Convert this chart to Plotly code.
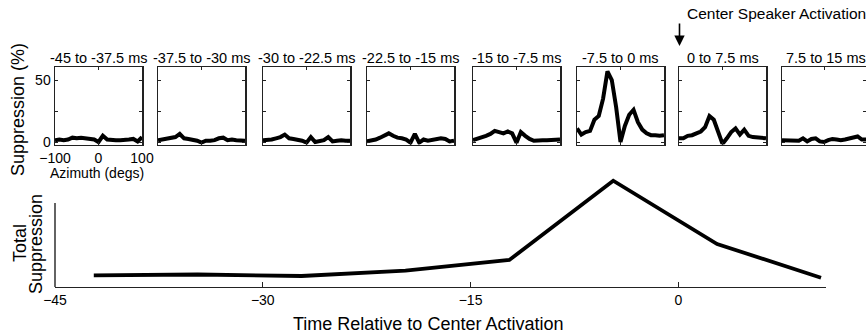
import plotly.graph_objects as go

W, H = 866, 335

# ---------------- data ----------------
azimuth = [-100, -90, -80, -70, -60, -50, -40, -30, -20, -10, 0,
           10, 20, 30, 40, 50, 60, 70, 80, 90, 100]

window_labels = ["-45 to -37.5 ms", "-37.5 to -30 ms", "-30 to -22.5 ms",
                 "-22.5 to -15 ms", "-15 to -7.5 ms", "-7.5 to 0 ms",
                 "0 to 7.5 ms", "7.5 to 15 ms"]

supp_w1 = [1.5, 2, 1.5, 2, 3.5, 3, 3.5, 3, 2, 2, 0, 5, 2, 1.5, 1.5, 1.5, 1.5, 2, 2.5, 0.5, 4]
supp_w2 = [1.5, 2, 2.5, 3.5, 4, 6.5, 3, 2.5, 2, 1, -0.5, 1, 1, 1.5, 3, 3.5, 1.5, 2, 1.5, 1.5, 1]
supp_w3 = [1.5, 1.5, 2, 3, 4, 6, 3, 2.5, 2, 1, -0.5, 4, 0, 1, 1.5, 4, 0.5, 1, 1.5, 1, 1]
supp_w4 = [0.5, 1, 2, 3.5, 5, 7, 5, 3.5, 3, 2, -0.5, 6.5, -0.5, 2, 1, 1.5, 2, 3, 2.5, 0.5, 1]
supp_w5 = [1.5, 2.5, 4, 5, 6.5, 9, 8, 7, 8.5, 7, -0.5, 8, 5, 2.5, 1, 1.5, 1.5, 1.5, 1.5, 1.5, 2]
supp_w6 = [11, 6, 8, 9, 18, 21, 35, 57, 50, 28, 0, 13, 22, 26, 16, 10, 7, 5.5, 5.5, 5, 5.5]
supp_w7 = [3, 3, 5, 5.5, 7, 8.5, 12, 21, 18, 8, -1.5, 3, 8, 11, 6, 10, 5, 4, 3.5, 3, 3]
supp_w8 = [1.5, 1.5, 1, 1.5, 1, 3, 0.5, 2.5, 3, 0.5, 0, 1.5, 2.5, 2, 1.5, 2, 3, 3.5, 4.5, 2, 2]
panel_series = [supp_w1, supp_w2, supp_w3, supp_w4, supp_w5, supp_w6, supp_w7, supp_w8]

panel_yticks = [0, 25, 50]
panel_yticktext = ["0", "", "50"]
panel_xticks = [-100, 0, 100]

time_ms = [-42.2, -34.7, -27.2, -19.7, -12.2, -4.7, 2.8, 10.3]
total_suppression = [11.7, 12.5, 11, 16.3, 27, 106.3, 43, 9.3]
time_ticks = [-45, -30, -15, 0]

# ---------------- layout helpers ----------------
def px(x):
    return x / W

def py(y):
    return 1 - y / H

FONT = "Arial, Liberation Sans, Helvetica, sans-serif"
AXC = "#222222"

panel_left = [55, 158, 263, 367, 473, 577, 679, 782]
panel_w = 87
panel_top, panel_bot = 67, 144.5

fig = go.Figure()
layout = dict(
    template="none",
    width=W, height=H, autosize=False,
    margin=dict(l=0, r=0, t=0, b=0, pad=0),
    paper_bgcolor="white", plot_bgcolor="white",
    showlegend=False,
    font=dict(family=FONT, size=14, color="black"),
)

for i, ser in enumerate(panel_series):
    k = i + 1
    fig.add_trace(go.Scatter(x=azimuth, y=ser, mode="lines",
                             line=dict(color="black", width=4),
                             xaxis=f"x{k}", yaxis=f"y{k}", hoverinfo="skip"))
    left = panel_left[i]
    right = min(left + panel_w, W)
    layout[f"xaxis{k}"] = dict(
        domain=[px(left), px(right)], range=[-100, 100], anchor=f"y{k}",
        automargin=False,
        showline=True, mirror="ticks", linecolor=AXC, linewidth=1.5,
        ticks="inside", ticklen=3, tickcolor=AXC, tickwidth=1,
        tickvals=panel_xticks, showticklabels=(k == 1),
        tickfont=dict(size=14), showgrid=False, zeroline=False,
    )
    layout[f"yaxis{k}"] = dict(
        domain=[py(panel_bot), py(panel_top)], range=[-2, 60.5], anchor=f"x{k}",
        automargin=False,
        showline=True, mirror="ticks", linecolor=AXC, linewidth=1.5,
        ticks="inside", ticklen=3, tickcolor=AXC, tickwidth=1,
        tickvals=panel_yticks, ticktext=panel_yticktext,
        showticklabels=(k == 1), tickfont=dict(size=14),
        showgrid=False, zeroline=False,
    )

# bottom panel
fig.add_trace(go.Scatter(x=time_ms, y=total_suppression, mode="lines",
                         line=dict(color="black", width=3.8),
                         xaxis="x9", yaxis="y9", hoverinfo="skip"))
layout["xaxis9"] = dict(
    domain=[px(55), px(826)], range=[-45, 10.66], anchor="y9",
    automargin=False,
    showline=True, linecolor=AXC, linewidth=1.4,
    ticks="inside", ticklen=5, tickcolor=AXC, tickwidth=1,
    tickvals=time_ticks, tickfont=dict(size=14),
    showgrid=False, zeroline=False,
)
layout["yaxis9"] = dict(
    domain=[py(287), py(178)], range=[0, 109], anchor="x9",
    automargin=False,
    visible=False, showgrid=False, zeroline=False,
)

shapes = [dict(type="line", xref="paper", yref="paper",
               x0=px(55), x1=px(55), y0=py(287), y1=py(203),
               line=dict(color=AXC, width=1.4))]

annotations = []
for i, lab in enumerate(window_labels):
    left = panel_left[i]
    annotations.append(dict(text=lab, xref="paper", yref="paper",
                            x=px(left + panel_w / 2), y=py(58),
                            xanchor="center", yanchor="middle",
                            showarrow=False, font=dict(size=14.5)))

annotations += [
    dict(text="Suppression (%)", xref="paper", yref="paper",
         x=px(18), y=py(110), textangle=-90, xanchor="center", yanchor="middle",
         showarrow=False, font=dict(size=18)),
    dict(text="Azimuth (degs)", xref="paper", yref="paper",
         x=px(97), y=py(173), xanchor="center", yanchor="middle",
         showarrow=False, font=dict(size=14)),
    dict(text="Total", xref="paper", yref="paper",
         x=px(20), y=py(243), textangle=-90, xanchor="center", yanchor="middle",
         showarrow=False, font=dict(size=18)),
    dict(text="Suppression", xref="paper", yref="paper",
         x=px(36), y=py(244), textangle=-90, xanchor="center", yanchor="middle",
         showarrow=False, font=dict(size=18)),
    dict(text="Time Relative to Center Activation", xref="paper", yref="paper",
         x=px(428), y=py(324), xanchor="center", yanchor="middle",
         showarrow=False, font=dict(size=18)),
    dict(text="Center Speaker Activation", xref="paper", yref="paper",
         x=px(685), y=py(14), xanchor="left", yanchor="middle",
         showarrow=False, font=dict(size=15.5)),
    dict(text="", xref="paper", yref="paper", x=px(679.5), y=py(46),
         ax=0, ay=-24, showarrow=True, arrowhead=2, arrowsize=1.3,
         arrowwidth=1.6, arrowcolor="black"),
]

layout["shapes"] = shapes
layout["annotations"] = annotations
fig.update_layout(**layout)

fig.write_html(
    "out.html",
    config={"displayModeBar": False, "staticPlot": True},
    post_script="document.body.style.margin='0';document.body.style.padding='0';"
                "document.documentElement.style.overflow='hidden';",
)
